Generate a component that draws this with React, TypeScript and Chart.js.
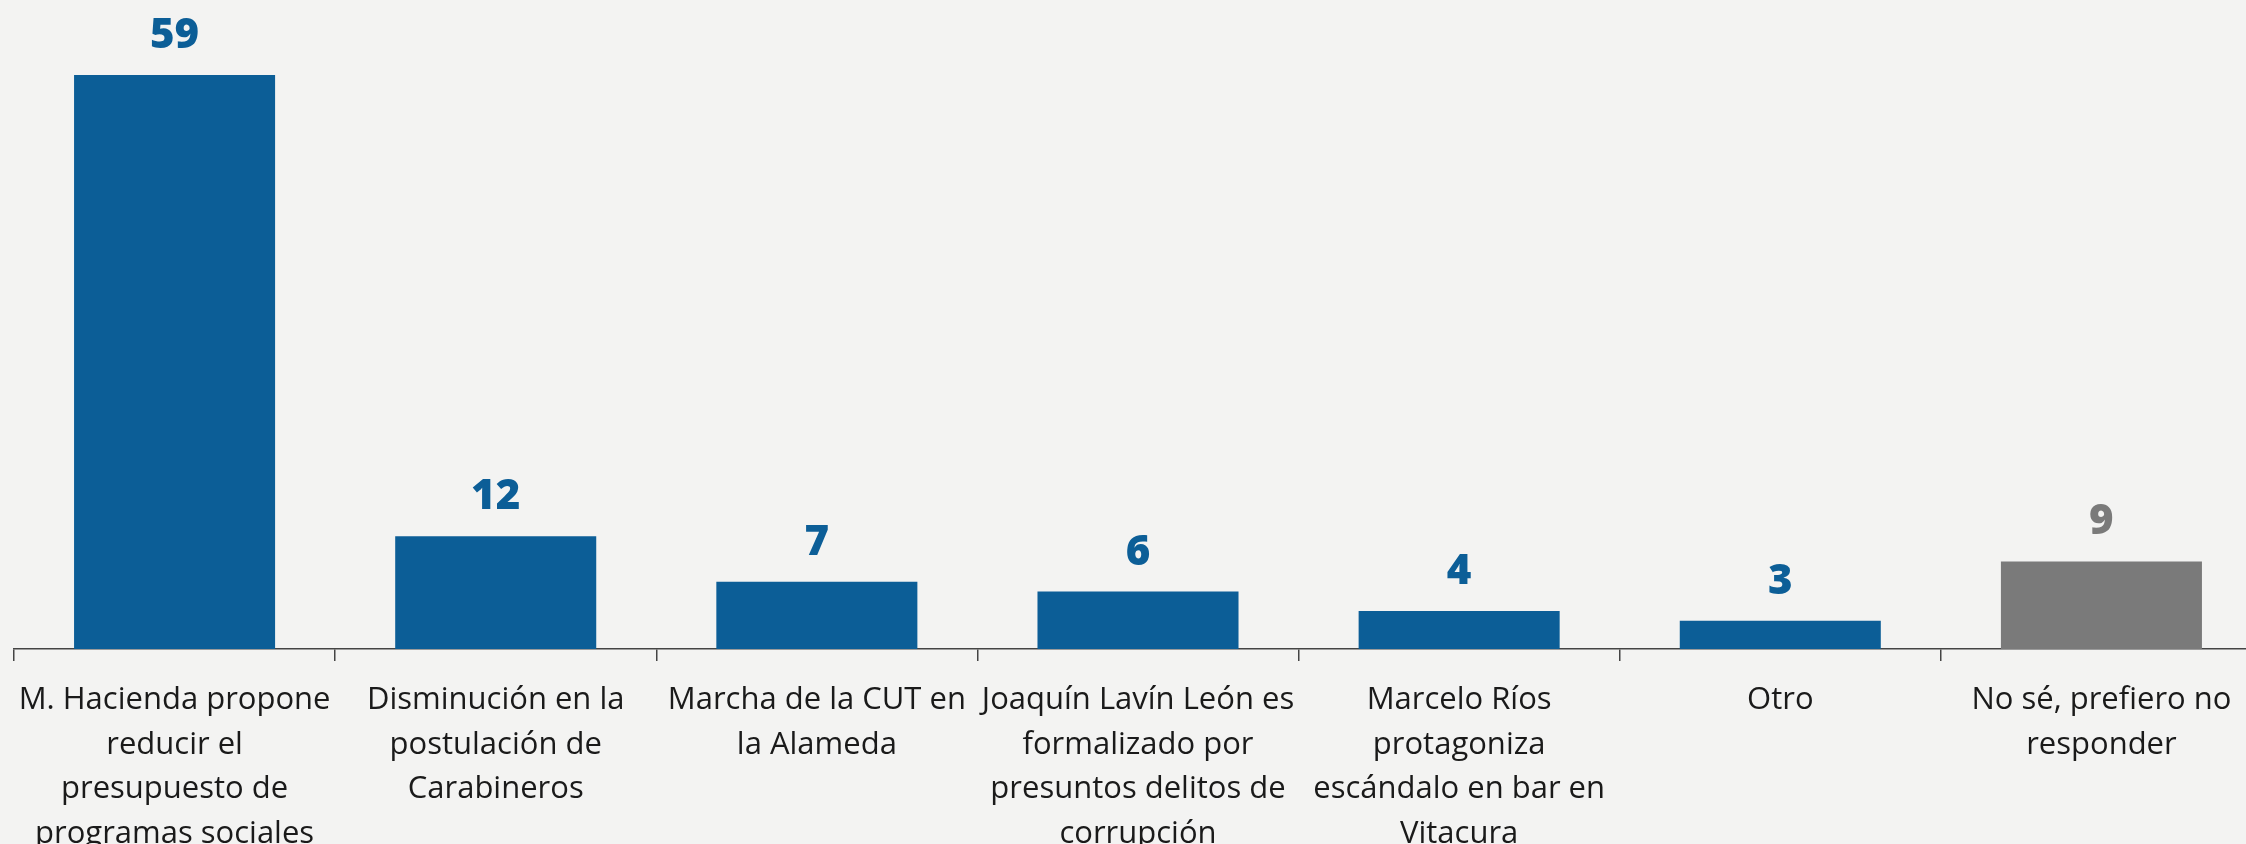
import React, { useEffect, useRef } from "react";
import { Chart, registerables } from "chart.js";

Chart.register(...registerables);

const categories: string[][] = [
  ["M. Hacienda propone", "reducir el", "presupuesto de", "programas sociales"],
  ["Disminución en la", "postulación de", "Carabineros"],
  ["Marcha de la CUT en", "la Alameda"],
  ["Joaquín Lavín León es", "formalizado por", "presuntos delitos de", "corrupción"],
  ["Marcelo Ríos", "protagoniza", "escándalo en bar en", "Vitacura"],
  ["Otro"],
  ["No sé, prefiero no", "responder"],
];
const values: number[] = [59, 11.6, 6.9, 5.9, 3.9, 2.9, 9];
const valueText: string[] = ["59", "12", "7", "6", "4", "3", "9"];

const BLUE = "#0c5e97";
const GRAY = "#7a7a7a";
const barColors = values.map((_, i) => (i === values.length - 1 ? GRAY : BLUE));

const valueLabels = {
  id: "valueLabels",
  afterDatasetsDraw(chart: any) {
    const ctx = chart.ctx;
    const meta = chart.getDatasetMeta(0);
    ctx.save();
    ctx.font = "800 42px 'Open Sans'";
    ctx.textAlign = "center";
    ctx.textBaseline = "alphabetic";
    meta.data.forEach((el: any, i: number) => {
      ctx.fillStyle = barColors[i];
      ctx.fillText(valueText[i], el.x, el.y - 27);
    });
    ctx.restore();
  },
};

export default function App() {
  const ref = useRef<HTMLCanvasElement | null>(null);
  useEffect(() => {
    if (!ref.current) return;
    const chart = new Chart(ref.current, {
      type: "bar",
      data: {
        labels: categories,
        datasets: [
          {
            data: values,
            backgroundColor: barColors,
            borderWidth: 0,
            barPercentage: 0.626,
            categoryPercentage: 1,
          },
        ],
      },
      options: {
        animation: false,
        responsive: false,
        devicePixelRatio: 1,
        layout: { padding: { top: 75, left: 14, right: 0, bottom: 0 } },
        plugins: { legend: { display: false }, tooltip: { enabled: false } },
        scales: {
          x: {
            grid: {
              display: true,
              drawOnChartArea: false,
              drawTicks: true,
              tickLength: 12,
              color: "#444444",
              lineWidth: 1.5,
              offset: true,
            },
            border: { display: true, color: "#444444", width: 1.5 },
            ticks: {
              autoSkip: false,
              maxRotation: 0,
              minRotation: 0,
              padding: 17,
              color: "#1a1a1a",
              font: { family: "'Open Sans'", size: 31, lineHeight: "44.5px" as any },
            },
          },
          y: {
            display: false,
            min: 0,
            max: 59,
          },
        },
      },
      plugins: [valueLabels],
    });
    return () => chart.destroy();
  }, []);
  return (
    <div
      style={{
        position: "fixed",
        top: 0,
        left: 0,
        width: 2246,
        height: 844,
        overflow: "hidden",
        background: "#f3f3f2",
      }}
    >
      <canvas ref={ref} width={2262} height={873} style={{ display: "block" }} />
    </div>
  );
}
